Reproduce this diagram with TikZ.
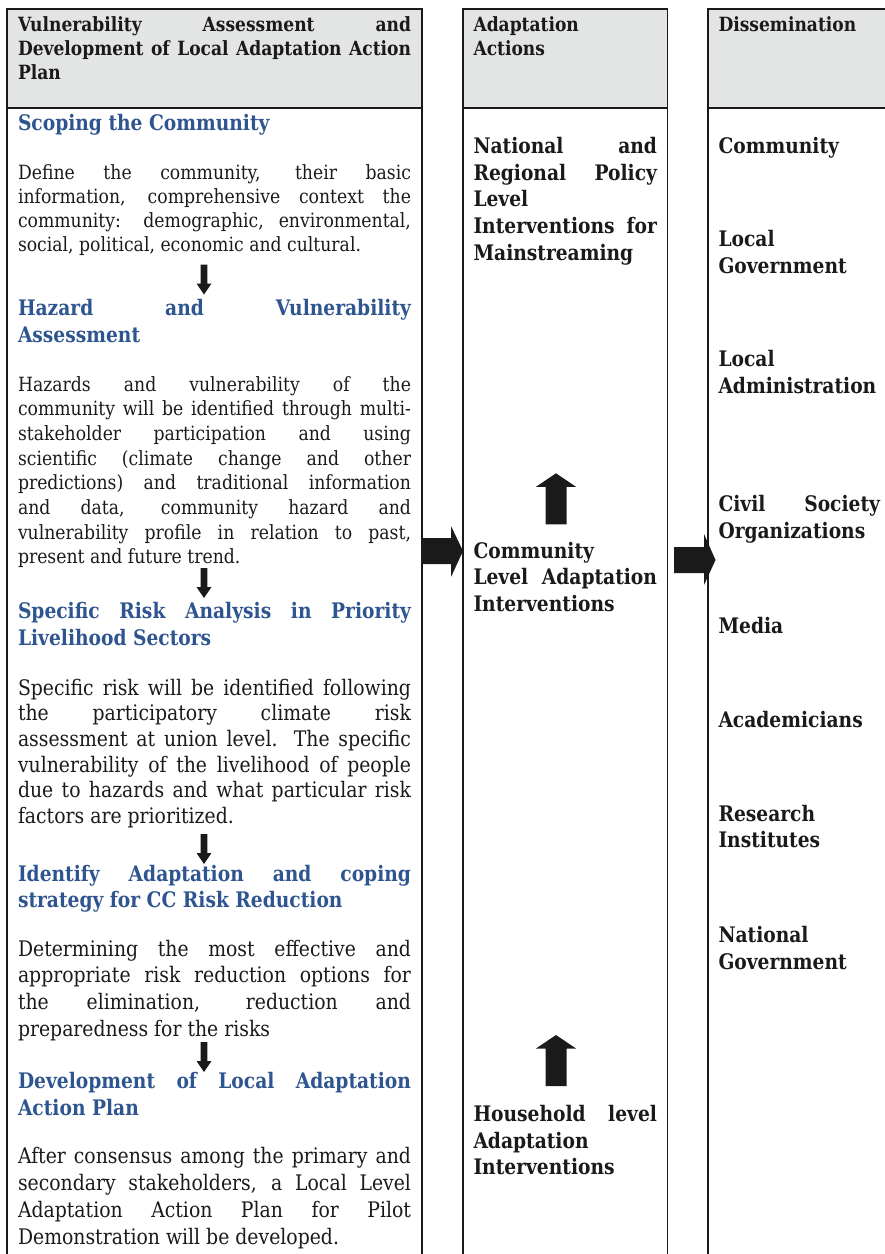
\documentclass[tikz,border=0pt]{standalone}
\usepackage{fontspec}
\setmainfont{DejaVu Serif}[FakeStretch=0.88,BoldFeatures={FakeStretch=0.872}]
\definecolor{ink}{HTML}{1A1A1A}
\definecolor{hblue}{HTML}{2F5590}
\definecolor{hgray}{HTML}{E3E4E4}
\newcommand{\Jl}[1]{\makebox[\linewidth][s]{#1}\\}
\newcommand{\szS}{\fontsize{19.6}{24.4}\selectfont}
\newcommand{\szL}{\fontsize{21.4}{26.7}\selectfont}
\newcommand{\colA}[1]{\parbox[t]{393pt}{#1}}
\newcommand{\colB}[1]{\parbox[t]{183.5pt}{#1}}
\newcommand{\colC}[1]{\parbox[t]{161.5pt}{#1}}
\tikzset{
  txt/.style={anchor=base west, inner sep=0pt, outer sep=0pt, text=ink},
  head/.style={txt, text=hblue},
  colline/.style={draw=ink, line width=1.2pt},
  blockfill/.style={fill=ink},
  downblock/.pic={\fill[blockfill] (-3.3,0) -- (3.3,0) -- (3.3,19) -- (7.5,19) -- (0,30) -- (-7.5,19) -- (-3.3,19) -- cycle;},
  upblock/.pic={\fill[blockfill] (0,0) -- (20,13.5) -- (10.5,13.5) -- (10.5,51) -- (-10.5,51) -- (-10.5,13.5) -- (-20,13.5) -- cycle;}
}
\begin{document}
\begin{tikzpicture}[x=1pt,y=-1pt]
\useasboundingbox (0,0) rectangle (885,1254);
% column frames
\fill[hgray] (7,9) rectangle (422,108);
\fill[hgray] (463,9) rectangle (667.5,108);
\fill[hgray] (708,9) rectangle (885,108);
\draw[colline] (7,1254) -- (7,9) -- (422,9) -- (422,1254);
\draw[colline] (7,108) -- (422,108);
\draw[colline] (463,1254) -- (463,9) -- (667.5,9) -- (667.5,1254);
\draw[colline] (463,108) -- (667.5,108);
\draw[colline] (708,1254) -- (708,9) -- (885,9);
\draw[colline] (708,108) -- (885,108);

% column 1
\node[txt] (h1) at (18,31) {\colA{\szS\bfseries \Jl{Vulnerability Assessment and}\Jl{Development of Local Adaptation Action}Plan}};
\node[head] (s1) at (18,130) {\colA{\szL\bfseries Scoping the Community}};
\node[txt] (p1) at (18,179) {\colA{\fontsize{19.6}{24.3}\selectfont
  \Jl{Define the community, their basic}
  \Jl{information, comprehensive context the}
  \Jl{community: demographic, environmental,}
  social, political, economic and cultural.}};
\node[head] (s2) at (18,315.7) {\colA{\fontsize{21.4}{27}\selectfont\bfseries
  \Jl{Hazard and Vulnerability}Assessment}};
\node[txt] (p2) at (18,391) {\colA{\fontsize{19.6}{24.7}\selectfont
  \Jl{Hazards and vulnerability of the}
  \Jl{community will be identified through multi-}
  \Jl{stakeholder participation and using}
  \Jl{scientific (climate change and other}
  \Jl{predictions) and traditional information}
  \Jl{and data, community hazard and}
  \Jl{vulnerability profile in relation to past,}
  present and future trend.}};
\node[head] (s3) at (18,618) {\colA{\fontsize{21.4}{27}\selectfont\bfseries
  \Jl{Specific Risk Analysis in Priority}Livelihood Sectors}};
\node[txt] (p3) at (18,695) {\colA{\fontsize{21.4}{25.7}\selectfont
  \Jl{Specific risk will be identified following}
  \Jl{the participatory climate risk}
  \Jl{assessment at union level. The specific}
  \Jl{vulnerability of the livelihood of people}
  \Jl{due to hazards and what particular risk}
  factors are prioritized.}};
\node[head] (s4) at (18,881) {\colA{\fontsize{21.4}{26}\selectfont\bfseries
  \Jl{Identify Adaptation and coping}strategy for CC Risk Reduction}};
\node[txt] (p4) at (18,956) {\colA{\fontsize{21.4}{26.7}\selectfont
  \Jl{Determining the most effective and}
  \Jl{appropriate risk reduction options for}
  \Jl{the elimination, reduction and}
  preparedness for the risks}};
\node[head] (s5) at (18,1088.3) {\colA{\fontsize{21.4}{26.7}\selectfont\bfseries
  \Jl{Development of Local Adaptation}Action Plan}};
\node[txt] (p5) at (18,1163.3) {\colA{\fontsize{21.4}{27.2}\selectfont
  \Jl{After consensus among the primary and}
  \Jl{secondary stakeholders, a Local Level}
  \Jl{Adaptation Action Plan for Pilot}
  Demonstration will be developed.}};

\pic at (204,264.5) {downblock};
\pic at (204,568) {downblock};
\pic at (204,834) {downblock};
\pic at (204,1042) {downblock};

% column 2
\node[txt] (h2) at (473.5,31) {\colB{\fontsize{19.6}{24}\selectfont\bfseries Adaptation\\Actions}};
\node[txt] (a1) at (473.5,153.3) {\colB{\szL\bfseries
  \Jl{National and}
  \Jl{Regional Policy}
  Level\\
  \Jl{Interventions for}
  Mainstreaming}};
\node[txt] (a2) at (473.5,558.3) {\colB{\fontsize{21.4}{26.5}\selectfont\bfseries
  Community\\
  \Jl{Level Adaptation}
  Interventions}};
\node[txt] (a3) at (473.5,1121.7) {\colB{\fontsize{21.4}{26.6}\selectfont\bfseries
  \Jl{Household level}
  Adaptation\\
  Interventions}};
\pic at (556,473.3) {upblock};
\pic at (556,1035) {upblock};

% column 3
\node[txt] (h3) at (718.5,31) {\colC{\szS\bfseries Dissemination}};
\node[txt] (d1) at (718.5,153.3) {\colC{\szL\bfseries Community}};
\node[txt] (d2) at (718.5,246.7) {\colC{\fontsize{21.4}{26.6}\selectfont\bfseries Local\\Government}};
\node[txt] (d3) at (718.5,366.7) {\colC{\fontsize{21.4}{26.6}\selectfont\bfseries Local\\Administration}};
\node[txt] (d4) at (718.5,511) {\colC{\fontsize{21.4}{27}\selectfont\bfseries \Jl{Civil Society}Organizations}};
\node[txt] (d5) at (718.5,633) {\colC{\szL\bfseries Media}};
\node[txt] (d6) at (718.5,727) {\colC{\szL\bfseries Academicians}};
\node[txt] (d7) at (718.5,821) {\colC{\fontsize{21.4}{26}\selectfont\bfseries Research\\Institutes}};
\node[txt] (d8) at (718.5,942) {\colC{\fontsize{21.4}{27}\selectfont\bfseries National\\Government}};

% block arrows between columns
\fill[blockfill] (422,538) -- (451,538) -- (451,526) -- (463,551) -- (451,577) -- (451,564) -- (422,564) -- cycle;
\fill[blockfill] (674,547) -- (704,547) -- (704,534) -- (715.5,560) -- (704,585) -- (704,573) -- (674,573) -- cycle;
\end{tikzpicture}
\end{document}
